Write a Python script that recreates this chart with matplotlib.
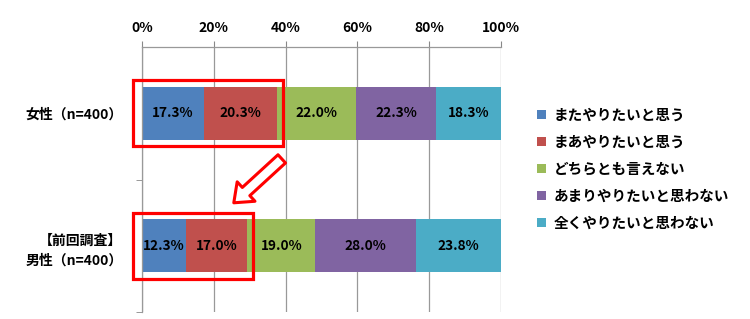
import matplotlib.pyplot as plt
from matplotlib.patches import Rectangle, FancyArrowPatch

plt.rcParams["font.family"] = ["Noto Sans CJK JP", "DejaVu Sans"]
plt.rcParams["font.weight"] = "bold"

groups = ["女性（n=400）", "【前回調査】\n男性（n=400）"]
answers = [
    "またやりたいと思う",
    "まあやりたいと思う",
    "どちらとも言えない",
    "あまりやりたいと思わない",
    "全くやりたいと思わない",
]
women = [17.3, 20.3, 22.0, 22.3, 18.3]
men_prev = [12.3, 17.0, 19.0, 28.0, 23.8]
x_ticks = [0, 20, 40, 60, 80, 100]

COLORS = ["#4F81BD", "#C0504D", "#9BBB59", "#8064A2", "#4BACC6"]

fig = plt.figure(figsize=(7.5, 3.19), dpi=100)
ax = fig.add_axes([142 / 750, 7 / 319, 359 / 750, 265 / 319])

rows = [women, men_prev]
for i, row in enumerate(rows):
    left = 0
    for j, val in enumerate(row):
        ax.barh(i, val, left=left, height=0.4, color=COLORS[j], label=answers[j] if i == 0 else None)
        ax.text(left + val / 2, i, f"{val:.1f}%", ha="center", va="center",
                fontsize=9.8, fontweight="bold", color="black")
        left += val

ax.set_xlim(0, 100)
ax.set_ylim(1.5, -0.5)
ax.xaxis.tick_top()
ax.set_xticks(x_ticks)
ax.set_xticklabels([f"{t}%" for t in x_ticks], fontsize=10, fontweight="bold")
ax.tick_params(axis="x", direction="out", length=4, color="#888888", pad=5)
ax.grid(axis="x", color="#999999", linewidth=0.9)
ax.set_axisbelow(True)

ax.set_yticks([0, 1])
ax.set_yticklabels(groups, fontsize=10, fontweight="bold", linespacing=1.6)
ax.tick_params(axis="y", length=0, pad=14)
ax.set_yticks([0.5, 1.5], minor=True)
ax.tick_params(axis="y", which="minor", length=4, color="#888888", direction="out")

for side in ["right", "bottom"]:
    ax.spines[side].set_visible(False)
for side in ["top", "left"]:
    ax.spines[side].set_color("#999999")
    ax.spines[side].set_linewidth(0.9)

# highlight boxes around the first two segments
for i, row in enumerate(rows):
    top2 = row[0] + row[1]
    ax.add_patch(Rectangle((-2.5, i - 0.25), top2 + 4.2, 0.5, fill=False,
                           edgecolor="#FF0000", linewidth=2.3, clip_on=False, zorder=5))

arrow = FancyArrowPatch((39.5, 0.33), (25.0, 0.69),
                        arrowstyle="simple,head_length=12,head_width=19,tail_width=8",
                        mutation_scale=1, facecolor="white", edgecolor="#FF0000",
                        linewidth=2.2, zorder=6, clip_on=False)
ax.add_patch(arrow)

fig.legend(loc="upper left", bbox_to_anchor=(537 / 750, 1 - 107 / 319),
           frameon=False, handlelength=0.6, handleheight=0.6,
           handletextpad=0.55, labelspacing=0.75, borderaxespad=0, borderpad=0,
           prop={"weight": "bold", "size": 10.5})

fig.savefig("out.png", dpi=100)
